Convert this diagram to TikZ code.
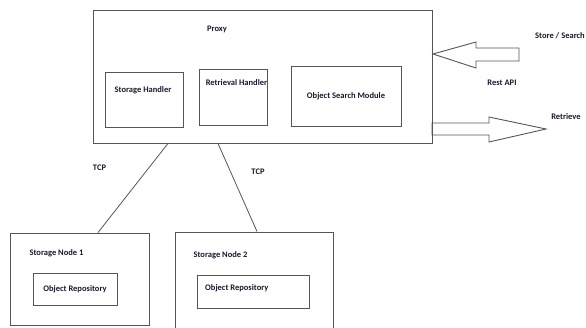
\documentclass[tikz,border=0pt]{standalone}
\usepackage{fontspec}
\setmainfont{Carlito}
\usepackage{tikz}
\usetikzlibrary{positioning,calc}
\definecolor{linegray}{RGB}{85,85,85}
\definecolor{inkblue}{RGB}{25,25,45}
\tikzstyle{box} =
  [rectangle, draw=linegray, line width=0.9pt, inner sep=0pt]
\tikzstyle{lbl} =
  [font=\bfseries\fontsize{8.5}{10}\selectfont, text=inkblue, inner sep=0pt]
\tikzstyle{link}=[draw=linegray, line width=0.8pt]
\tikzstyle{fat}=[draw=linegray, line width=0.9pt, line join=miter]

\begin{document}
\begin{tikzpicture}[x=1pt, y=-1pt]
  \useasboundingbox (0,0) rectangle (586,327);
  \node [box, minimum width=339pt, minimum height=133pt] (proxy) at (262.5,76.5) {};
  \node [lbl] (proxylbl) at (217,29) {Proxy};
  \node [box, minimum width=78pt, minimum height=55pt] (sh) at (144,99.5) {};
  \node [lbl] (shlbl) at (143,90) {Storage Handler};
  \node [box, minimum width=68pt, minimum height=56pt] (rh) at (233,97) {};
  \node [lbl] (rhlbl) at (236.5,83) {Retrieval Handler};
  \node [box, lbl, minimum width=110pt, minimum height=60pt] (osm) at (346,96) {Object Search Module};

  \coordinate (intip) at (433,54);
  \draw [fat] (intip) -- ++(43,-12) -- ++(0,6) -- ++(43,0) -- ++(0,13)
    -- ++(-43,0) -- ++(0,7) -- cycle;
  \coordinate (outtip) at (546,129);
  \draw [fat] (outtip) -- ++(-57,-12) -- ++(0,6) -- ++(-57,0) -- ++(0,12)
    -- ++(57,0) -- ++(0,7) -- cycle;
  \node [lbl, anchor=east] (storelbl) at (585,36) {Store / Search};
  \node [lbl] (restlbl) at (502,83) {Rest API};
  \node [lbl] (retrlbl) at (566,117) {Retrieve};

  \node [box, minimum width=139pt, minimum height=92pt] (sn1) at (79.5,279) {};
  \node [lbl] (sn1lbl) at (56.5,253) {Storage Node 1};
  \node [box, lbl, minimum width=84pt, minimum height=32pt] (or1) at (75,289) {Object Repository};
  \node [box, minimum width=158pt, minimum height=110pt] (sn2) at (254,287) {};
  \node [lbl] (sn2lbl) at (220.5,255) {Storage Node 2};
  \node [box, minimum width=112pt, minimum height=33pt] (or2) at (253,291.5) {};
  \node [lbl, anchor=west] (or2lbl) at (205,288) {Object Repository};

  \node [lbl] (tcpa) at (99.5,168) {TCP};
  \node [lbl] (tcpb) at (258,172) {TCP};
  \draw [link] ([xshift=-94.5pt]proxy.south) -- ([xshift=18.5pt]sn1.north);
  \draw [link] ([xshift=-44.5pt]proxy.south) -- ([xshift=3pt]sn2.north);
\end{tikzpicture}
\end{document}
